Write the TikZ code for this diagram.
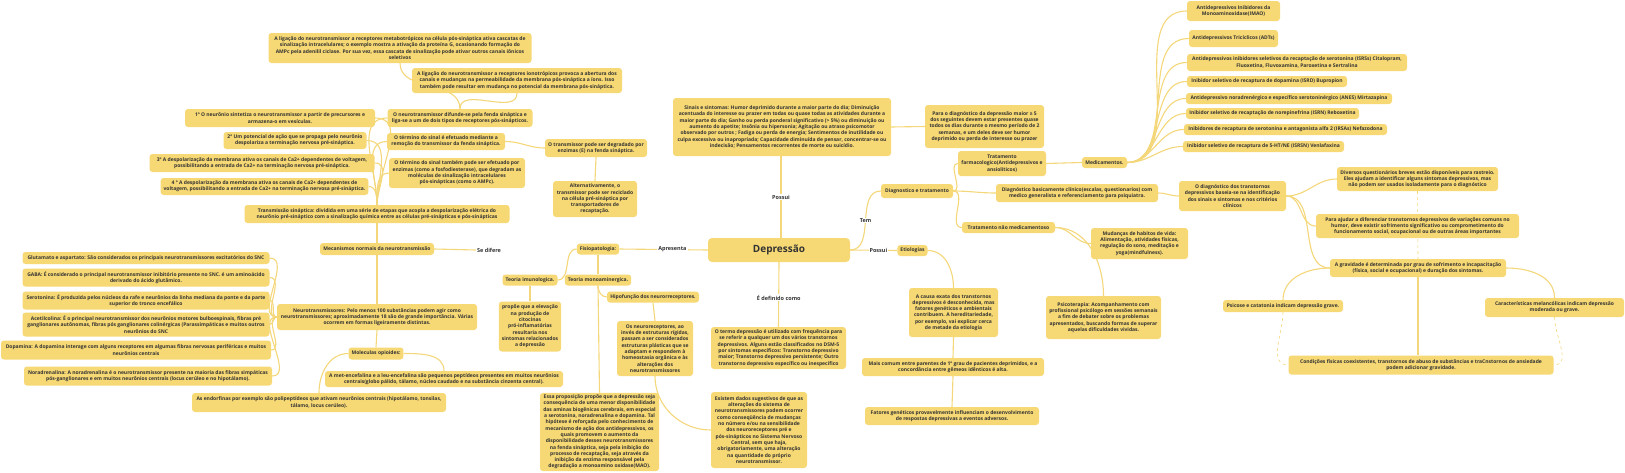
\documentclass[tikz,border=0pt]{standalone}
\usepackage{fontspec}
\setmainfont{Open Sans}
\usetikzlibrary{backgrounds}
\definecolor{boxc}{HTML}{F6D874}
\definecolor{linkc}{HTML}{F4D77A}
\definecolor{textc}{HTML}{333333}

\begin{document}
\begin{tikzpicture}[x=1pt, y=1pt,
    bx/.style={fill=boxc, rounded corners=3pt, font=\fontsize{5}{6.3}\selectfont\bfseries,
      text=textc, align=center, inner xsep=3pt, inner ysep=2pt},
    sz/.style 2 args={minimum width=#1pt, minimum height=#2pt},
    root/.style={fill=boxc, rounded corners=4pt, font=\fontsize{10}{12}\selectfont\bfseries,
      text=textc, minimum width=142pt, minimum height=24pt},
    lbl/.style={fill=white, inner sep=1pt, font=\fontsize{5.5}{6}\selectfont\bfseries, text=textc},
    link/.style={draw=linkc, line width=1.1pt},
    dlink/.style={draw=linkc, line width=0.6pt, dashed},
  ]
    \useasboundingbox (0,0) rectangle (1625,-472);

    % Centre
    \node[root] (dep) at (779,-250) {Depressão};
    \node[bx, sz={218}{58}] (sinais) at (782,-127) {Sinais e sintomas: Humor deprimido durante a maior parte do dia; Diminuição\\acentuada do interesse ou prazer em todas ou quase todas as atividades durante a\\maior parte do dia; Ganho ou perda ponderal significativo (> 5\%) ou diminuição ou\\aumento do apetite; Insônia ou hipersonia; Agitação ou atraso psicomotor\\observado por outros ; Fadiga ou perda de energia; Sentimentos de inutilidade ou\\culpa excessiva ou inapropriada; Capacidade diminuída de pensar, concentrar-se ou\\indecisão; Pensamentos recorrentes de morte ou suicídio.};
    \node[bx, sz={119}{43}] (para) at (984.5,-126.5) {Para o diagnóstico da depressão maior ≥ 5\\dos seguintes devem estar presentes quase\\todos os dias durante o mesmo período de 2\\semanas, e um deles deve ser humor\\deprimido ou perda de interesse ou prazer};
    \node[bx, sz={135}{42}] (termo) at (778.5,-348) {O termo depressão é utilizado com frequência para\\se referir a qualquer um dos vários transtornos\\depressivos. Alguns estão classificados no DSM-5\\por sintomas específicos: Transtorno depressivo\\maior; Transtorno depressivo persistente; Outro\\transtorno depressivo específico ou inespecífico};

    % Neurotransmission
    \node[bx, sz={263}{30}] (meta) at (400,-48) {A ligação do neurotransmissor a receptores metabotrópicos na célula pós-sináptica ativa cascatas de\\sinalização intracelulares; o exemplo mostra a ativação da proteína G, ocasionando formação do\\AMPc pela adenilil ciclase. Por sua vez, essa cascata de sinalização pode ativar outros canais iônicos\\seletivos};
    \node[bx, sz={210}{25}] (iono) at (517,-80.5) {A ligação do neurotransmissor a receptores ionotrópicos provoca a abertura dos\\canais e mudanças na permeabilidade da membrana pós-sináptica a íons. Isso\\também pode resultar em mudança no potencial da membrana pós-sináptica.};
    \node[bx, sz={145}{18}] (difunde) at (460,-118) {O neurotransmissor difunde-se pela fenda sináptica e\\liga-se a um de dois tipos de receptores pós-sinápticos.};
    \node[bx, sz={118}{17}] (term1) at (446,-141.5) {O término do sinal é efetuado mediante a\\remoção do transmissor da fenda sináptica.};
    \node[bx, sz={136}{30}] (term2) at (457,-173) {O término do sinal também pode ser efetuado por\\enzimas (como a fosfodiesterase), que degradam as\\moléculas de sinalização intracelulares\\pós-sinápticas (como o AMPc).};
    \node[bx, sz={102}{18}] (degr) at (596,-148) {O transmissor pode ser degradado por\\enzimas (E) na fenda sináptica.};
    \node[bx, sz={84}{36}] (recic) at (595,-199) {Alternativamente, o\\transmissor pode ser reciclado\\na célula pré-sináptica por\\transportadores de\\recaptação.};
    \node[bx, sz={190}{18}] (step1) at (280,-118) {1º O neurônio sintetiza o neurotransmissor a partir de precursores e\\armazena-o em vesículas.};
    \node[bx, sz={143}{17}] (step2) at (295,-140.5) {2º Um potencial de ação que se propaga pelo neurônio\\despolariza a terminação nervosa pré-sináptica.};
    \node[bx, sz={225}{18}] (step3) at (262,-163) {3º A despolarização da membrana ativa os canais de Ca2+ dependentes de voltagem,\\possibilitando a entrada de Ca2+ na terminação nervosa pré-sináptica.};
    \node[bx, sz={207}{17}] (step4) at (264.5,-186.5) {4 º A despolarização da membrana ativa os canais de Ca2+ dependentes de\\voltagem, possibilitando a entrada de Ca2+ na terminação nervosa pré-sináptica.};
    \node[bx, sz={265}{18}] (transm) at (377,-214) {Transmissão sináptica: dividida em uma série de etapas que acopla a despolarização elétrica do\\neurônio pré-sináptico com a sinalização química entre as células pré-sinápticas e pós-sinápticas};
    \node[bx, sz={114}{12}] (mecan) at (377,-249) {Mecanismos normais da neurotransmissão};
    \node[lbl] (sedif) at (489,-250) {Se difere};
    \node[bx, sz={200}{26}] (neurot) at (377,-317) {Neurotransmissores: Pelo menos 100 substâncias podem agir como\\neurotransmissores; aproximadamente 18 são de grande importância. Várias\\ocorrem em formas ligeiramente distintas.};
    \node[bx, sz={247}{12}] (glut) at (146,-258) {Glutamato e aspartato: São considerados os principais neurotransmissores excitatórios do SNC};
    \node[bx, sz={247}{18}] (gaba) at (146,-277.5) {GABA: É considerado o principal neurotransmissor inibitório presente no SNC. é um aminoácido\\derivado do ácido glutâmico.};
    \node[bx, sz={247}{18}] (sero) at (146,-300.5) {Serotonina: É produzida pelos núcleos da rafe e neurônios da linha mediana da ponte e da parte\\superior do tronco encefálico};
    \node[bx, sz={247}{24}] (acet) at (146,-324.5) {Acetilcolina: É o principal neurotransmissor dos neurônios motores bulboespinais, fibras pré\\ganglionares autônomas, fibras pós ganglionares colinérgicas (Parassimpáticas e muitos outros\\neurônios do SNC};
    \node[bx, sz={270}{19}] (dopa) at (136,-350) {Dopamina: A dopamina interage com alguns receptores em algumas fibras nervosas periféricas e muitos\\neurônios centrais};
    \node[bx, sz={248}{19}] (nora) at (148,-376) {Noradrenalina: A noradrenalina é o neurotransmissor presente na maioria das fibras simpáticas\\pós-ganglionares e em muitos neurônios centrais (locus cerúleo e no hipotálamo).};
    \node[bx, sz={53}{12}] (opio) at (376,-353.5) {Moleculas opioides:};
    \node[bx, sz={238}{16}] (metenc) at (444,-379) {A met-encefalina e a leu-encefalina são pequenos peptídeos presentes em muitos neurônios\\centrais(globo pálido, tálamo, núcleo caudado e na substância cinzenta central).};
    \node[bx, sz={254}{19}] (endorf) at (319,-402.5) {As endorfinas por exemplo são polipeptídeos que ativam neurônios centrais (hipotálamo, tonsilas,\\tálamo, locus cerúleo).};

    % Pathophysiology
    \node[bx, sz={42}{11}] (fisio) at (598,-249) {Fisiopatologia:};
    \node[bx, sz={55}{11}] (imuno) at (530,-280) {Teoria imunologica.};
    \node[bx, sz={65}{11}] (mono) at (598,-280) {Teoria monoaminergica.};
    \node[bx, sz={61}{50}] (propoe) at (530,-326.5) {propõe que a elevação\\na produção de\\citocinas\\pró-inflamatórias\\resultaria nos\\sintomas relacionados\\a depressão};
    \node[bx, sz={92}{11}] (hipo) at (653,-297) {Hipofunção dos neurorreceptores.};
    \node[bx, sz={76}{55}] (neurorec) at (655,-348.5) {Os neuroreceptores, ao\\invés de estruturas rígidas,\\passam a ser considerados\\estruturas plásticas que se\\adaptam e respondem à\\homeostasia orgânica e às\\alterações dos\\neurotransmissores};
    \node[bx, sz={119}{78}] (essa) at (599.5,-432) {Essa proposição propõe que a depressão seja\\consequência de uma menor disponibilidade\\das aminas biogênicas cerebrais, em especial\\a serotonina, noradrenalina e dopamina. Tal\\hipótese é reforçada pelo conhecimento de\\mecanismo de ação dos antidepressivos, os\\quais promovem o aumento da\\disponibilidade desses neurotransmissores\\na fenda sináptica, seja pela inibição do\\processo de recaptação, seja através da\\inibição da enzima responsável pela\\degradação a monoamino oxidase(MAO).};
    \node[bx, sz={96}{76}] (existem) at (759,-430) {Existem dados sugestivos de que as\\alterações do sistema de\\neurotransmissores podem ocorrer\\como conseqüência de mudanças\\no número e/ou na sensibilidade\\dos neuroreceptores pré e\\pós-sinápticos no Sistema Nervoso\\Central, sem que haja,\\obrigatoriamente, uma alteração\\na quantidade do próprio\\neurotransmissor.};

    % Diagnosis and treatment
    \node[bx, sz={72}{14}] (diagtrat) at (917,-191) {Diagnostico e tratamento};
    \node[bx, sz={88}{25}] (tfarm) at (1002,-163.5) {Tratamento\\farmacologico(Antidepressivos e\\ansiolíticos)};
    \node[bx, sz={45}{11}] (medic) at (1104.5,-162.5) {Medicamentos.};
    \node[bx, sz={93}{20}] (d1) at (1233.5,-11) {Antidepressivos Inibidores da\\Monoaminoxidase(IMAO)};
    \node[bx, sz={89}{17}] (d2) at (1233.5,-38.5) {Antidepressivos Tricíclicos (ADTs)};
    \node[bx, sz={220}{17}] (d3) at (1297,-62.5) {Antidepressivos inibidores seletivos da recaptação de serotonina (ISRSs) Citalopram,\\Fluoxetina, Fluvoxamina, Paroxetina e Sertralina};
    \node[bx, sz={160}{11}] (d4) at (1267,-81.5) {Inibidor seletivo de recaptura de dopamina (ISRD) Bupropion};
    \node[bx, sz={206}{11}] (d5) at (1289,-98.5) {Antidepressivo noradrenérgico e específico serotoninérgico (ANES) Mirtazapina};
    \node[bx, sz={173}{11}] (d6) at (1272.5,-113.5) {Inibidor seletivo de recaptação de norepinefrina (ISRN) Reboxetina};
    \node[bx, sz={203}{11}] (d7) at (1285.5,-129.5) {Inibidores de recaptura de serotonina e antagonista alfa 2 (IRSAs) Nefazodona};
    \node[bx, sz={161}{11}] (d8) at (1263.5,-146.5) {Inibidor seletivo de recaptura de 5-HT/NE (ISRSN) Venlafaxina};
    \node[bx, sz={162}{18}] (diagbas) at (1077,-193) {Diagnóstico basicamente clínico(escalas, questionarios) com\\medico generalista e referenciamento para psiquiatra.};
    \node[bx, sz={107}{30}] (odiag) at (1232.5,-196) {O diagnóstico dos transtornos\\depressivos baseia-se na identificação\\dos sinais e sintomas e nos critérios\\clínicos};
    \node[bx, sz={161}{24}] (quest) at (1417.5,-179) {Diversos questionários breves estão disponíveis para rastreio.\\Eles ajudam a identificar alguns sintomas depressivos, mas\\não podem ser usados isoladamente para o diagnóstico};
    \node[bx, sz={203}{24}] (paraaj) at (1417.5,-226) {Para ajudar a diferenciar transtornos depressivos de variações comuns no\\humor, deve existir sofrimento significativo ou comprometimento do\\funcionamento social, ocupacional ou de outras áreas importantes};
    \node[bx, sz={176}{18}] (grav) at (1418,-268) {A gravidade é determinada por grau de sofrimento e incapacitação\\(física, social e ocupacional) e duração dos sintomas.};
    \node[bx, sz={120}{12}] (psic) at (1283,-306) {Psicose e catatonia indicam depressão grave.};
    \node[bx, sz={139}{19}] (melan) at (1554.5,-307.5) {Características melancólicas indicam depressão\\moderada ou grave.};
    \node[bx, sz={265}{19}] (cond) at (1421,-365) {Condições físicas coexistentes, transtornos de abuso de substâncias e traCnstornos de ansiedade\\podem adicionar gravidade.};
    \node[bx, sz={93}{11}] (tnmed) at (1008.5,-227.5) {Tratamento não medicamentoso};
    \node[bx, sz={97}{31}] (mudan) at (1139.5,-243.5) {Mudanças de habitos de vida:\\Alimentação, atividades físicas,\\regulação do sono, meditação e\\yoga(mindfulness).};
    \node[bx, sz={115}{43}] (psicot) at (1103.5,-317.5) {Psicoterapia: Acompanhamento com\\profissional psicólogo em sessões semanais\\a fim de debater sobre os problemas\\apresentados, buscando formas de superar\\aquelas dificuldades vividas.};

    % Etiology
    \node[bx, sz={29}{11}] (etio) at (912.5,-250.5) {Etiologias};
    \node[bx, sz={89}{49}] (causa) at (953.5,-312.5) {A causa exata dos transtornos\\depressivos é desconhecida, mas\\fatores genéticos e ambientais\\contribuem. A hereditariedade,\\por exemplo, vai explicar cerca\\de metade da etiologia};
    \node[bx, sz={182}{18}] (maiscom) at (953,-367) {Mais comum entre parentes de 1º grau de pacientes deprimidos, e a\\concordância entre gêmeos idênticos é alta.};
    \node[bx, sz={174}{18}] (fatores) at (952,-416) {Fatores genéticos provavelmente influenciam o desenvolvimento\\de respostas depressivas a eventos adversos.};

    % Connectors
    \begin{scope}[on background layer]
      \draw[link] (dep.west) -- node[lbl, pos=0.4] (apres) {Apresenta} (fisio.east);
      \draw[link] (781,-238) -- node[lbl] (possui1) {Possui} (781,-156) coordinate (sinaisb);
      \draw[link] (dep.south) -- node[lbl, pos=0.55] (defin) {É definido como} (termo.north);
      \draw[link] (dep.east) to[out=0, in=180] node[lbl] (tem) {Tem} (diagtrat.west);
      \draw[link] (dep.east) -- node[lbl, pos=0.6] (possui2) {Possui} (etio.west);
      \draw[link] (sinais.east) -- (para.west);

      \draw[link] (mecan.north) -- (transm.south);
      \draw[link] (mecan.south) -- (neurot.north);
      \draw[link] (mecan.east) -- (sedif.west);
      \draw[link] (transm.north) to[out=90, in=0] (step1.east);
      \draw[link] (transm.north) to[out=90, in=0] (step2.east);
      \draw[link] (transm.north) to[out=90, in=0] (step3.east);
      \draw[link] (transm.north) to[out=90, in=0] (step4.east);
      \draw[link] (transm.north) to[out=90, in=180] (difunde.west);
      \draw[link] (transm.north) to[out=90, in=180] (term1.west);
      \draw[link] (transm.north) to[out=90, in=180] (term2.west);
      \draw[link] (difunde.north) to[out=90, in=-90] (meta.south);
      \draw[link] (difunde.north) to[out=90, in=-90] (iono.south);
      \draw[link] (term1.east) to[out=0, in=180] (degr.west);
      \draw[link] (degr.south) -- (recic.north);
      \foreach \n in {glut,gaba,sero,acet,dopa,nora}
        \draw[link] (neurot.west) to[out=180, in=0] (\n.east);
      \draw[link] (neurot.south) -- (opio.north);
      \draw[link] (opio.east) to[out=0, in=90] (metenc.north);
      \draw[link] (opio.west) to[out=180, in=90] (endorf.north);

      \draw[link] (fisio.west) to[out=180, in=0] (imuno.east);
      \draw[link] (fisio.south) -- (mono.north);
      \draw[link] (imuno.south) -- (propoe.north);
      \draw[link] (mono.south) -- (essa.north);
      \draw[link] (mono.south) to[out=-90, in=180] (hipo.west);
      \draw[link] (hipo.south) -- (neurorec.north);
      \draw[link] (neurorec.south) to[out=-90, in=180] (existem.west);

      \draw[link] (diagtrat.east) to[out=0, in=180] (tfarm.west);
      \draw[link] (diagtrat.east) to[out=0, in=180] (diagbas.west);
      \draw[link] (diagtrat.east) to[out=0, in=180] (tnmed.west);
      \draw[link] (tfarm.east) -- (medic.west);
      \foreach \d in {d1,d2,d3,d4,d5,d6,d7,d8}
        \draw[link] (medic.east) to[out=0, in=180] (\d.west);
      \draw[link] (diagbas.east) to[out=0, in=180] (odiag.west);
      \draw[link] (odiag.east) to[out=0, in=180] (quest.west);
      \draw[link] (odiag.east) to[out=0, in=180] (paraaj.west);
      \draw[link] (odiag.east) to[out=0, in=180] (grav.west);
      \draw[link] (grav.west) to[out=180, in=90] (psic.north);
      \draw[link] (grav.east) to[out=0, in=90] (melan.north);
      \draw[link] (grav.south) -- (cond.north -| grav.south);
      \draw[dlink] (quest.south) -- (grav.north);
      \draw[dlink] (melan.south) to[out=-90, in=0] (cond.east);
      \draw[dlink] (psic.south) to[out=-90, in=180] (cond.west);
      \draw[link] (tnmed.east) to[out=0, in=180] (mudan.west);
      \draw[link] (tnmed.east) to[out=0, in=90] (psicot.north);

      \draw[link] (etio.east) to[out=0, in=90] (causa.north);
      \draw[link] (causa.south) -- (maiscom.north);
      \draw[link] (maiscom.south) -- (fatores.north);
    \end{scope}
  \end{tikzpicture}
\end{document}
